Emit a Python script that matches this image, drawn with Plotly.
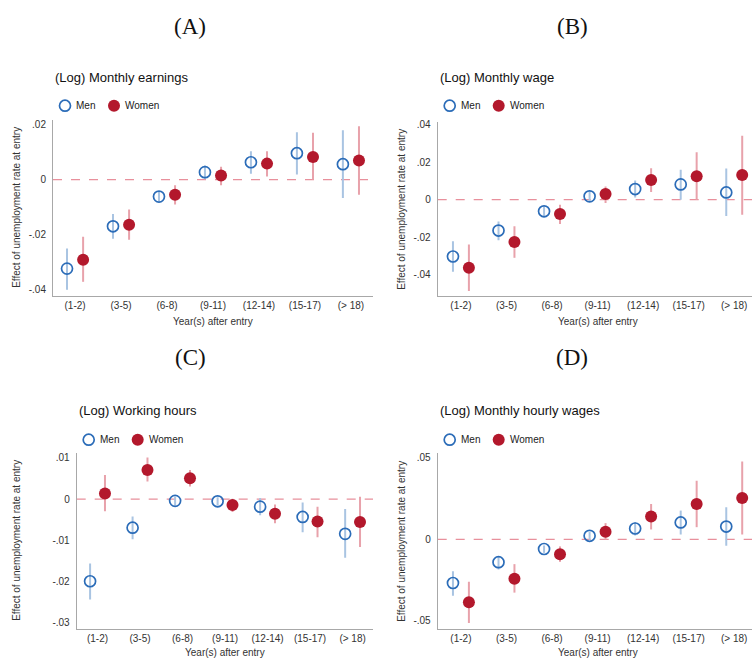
import plotly.graph_objects as go

# Year groups after labour-market entry
categories = ["(1-2)", "(3-5)", "(6-8)", "(9-11)", "(12-14)", "(15-17)", "(> 18)"]

# Panel A: (Log) Monthly earnings
a_men = [-0.0324, -0.0170, -0.0062, 0.0027, 0.0063, 0.0096, 0.0056]
a_men_hi = [-0.0251, -0.0125, -0.0045, 0.0051, 0.0103, 0.0172, 0.0179]
a_men_lo = [-0.0401, -0.0215, -0.0079, 0.0001, 0.0021, 0.0018, -0.0067]
a_women = [-0.0292, -0.0164, -0.0055, 0.0015, 0.0058, 0.0082, 0.0069]
a_women_hi = [-0.0208, -0.0109, -0.0021, 0.0047, 0.0103, 0.0170, 0.0194]
a_women_lo = [-0.0372, -0.0219, -0.0091, -0.0021, 0.0011, 0.0000, -0.0055]

# Panel B: (Log) Monthly wage
b_men = [-0.0304, -0.0165, -0.0062, 0.0018, 0.0057, 0.0082, 0.0039]
b_men_hi = [-0.0222, -0.0116, -0.0037, 0.0044, 0.0103, 0.0160, 0.0167]
b_men_lo = [-0.0386, -0.0217, -0.0089, -0.0009, 0.0012, 0.0000, -0.0087]
b_women = [-0.0364, -0.0226, -0.0076, 0.0030, 0.0105, 0.0126, 0.0132]
b_women_hi = [-0.0240, -0.0142, -0.0027, 0.0071, 0.0169, 0.0254, 0.0343]
b_women_lo = [-0.0489, -0.0311, -0.0130, -0.0018, 0.0041, 0.0000, -0.0080]

# Panel C: (Log) Working hours
c_men = [-0.0199, -0.0069, -0.0004, -0.0005, -0.0018, -0.0043, -0.0084]
c_men_hi = [-0.0156, -0.0042, 0.0006, 0.0005, 0.0003, -0.0008, -0.0024]
c_men_lo = [-0.0243, -0.0097, -0.0015, -0.0015, -0.0039, -0.0080, -0.0142]
c_women = [0.0014, 0.0071, 0.0051, -0.0014, -0.0035, -0.0054, -0.0055]
c_women_hi = [0.0059, 0.0101, 0.0071, 0.0001, -0.0013, -0.0018, 0.0006]
c_women_lo = [-0.0029, 0.0043, 0.0031, -0.0031, -0.0058, -0.0092, -0.0116]

# Panel D: (Log) Monthly hourly wages
d_men = [-0.0268, -0.0140, -0.0059, 0.0022, 0.0067, 0.0104, 0.0079]
d_men_hi = [-0.0195, -0.0102, -0.0037, 0.0045, 0.0106, 0.0177, 0.0197]
d_men_lo = [-0.0346, -0.0185, -0.0083, -0.0002, 0.0024, 0.0030, -0.0039]
d_women = [-0.0386, -0.0242, -0.0091, 0.0047, 0.0140, 0.0217, 0.0254]
d_women_hi = [-0.0260, -0.0152, -0.0043, 0.0100, 0.0217, 0.0360, 0.0478]
d_women_lo = [-0.0514, -0.0327, -0.0138, -0.0002, 0.0061, 0.0075, 0.0030]

MEN = "#2b6cb8"
MEN_CI = "#a9c4e2"
WOMEN = "#b3182c"
WOMEN_CI = "#e8a2ab"
ZERO = "#e8909c"
AXIS = "#a8a8a8"
TXT = "#333333"
W, H = 752, 658

panels = [
    dict(letter="(A)", title="(Log) Monthly earnings",
         men=(a_men, a_men_lo, a_men_hi), women=(a_women, a_women_lo, a_women_hi),
         px=(53, 373), py=(118, 295), xr=(-0.48, 6.48), yr=(-0.0424, 0.0218),
         ticks=[0.02, 0, -0.02, -0.04], tickt=[".02", "0", "-.02", "-.04"],
         label_xy=(190, 25), title_y=76, legend_y=104, ytitle_x=17, xtitle_y=320),
    dict(letter="(B)", title="(Log) Monthly wage",
         men=(b_men, b_men_lo, b_men_hi), women=(b_women, b_women_lo, b_women_hi),
         px=(437.7, 752), py=(120, 295), xr=(-0.51, 6.39), yr=(-0.0516, 0.0418),
         ticks=[0.04, 0.02, 0, -0.02, -0.04], tickt=[".04", ".02", "0", "-.02", "-.04"],
         label_xy=(572, 25), title_y=76, legend_y=104, ytitle_x=402, xtitle_y=320),
    dict(letter="(C)", title="(Log) Working hours",
         men=(c_men, c_men_lo, c_men_hi), women=(c_women, c_women_lo, c_women_hi),
         px=(76.7, 373), py=(452, 629), xr=(-0.49, 6.48), yr=(-0.0315, 0.0113),
         ticks=[0.01, 0, -0.01, -0.02, -0.03], tickt=[".01", "0", "-.01", "-.02", "-.03"],
         label_xy=(190, 357), title_y=410, legend_y=439, ytitle_x=17, xtitle_y=652),
    dict(letter="(D)", title="(Log) Monthly hourly wages",
         men=(d_men, d_men_lo, d_men_hi), women=(d_women, d_women_lo, d_women_hi),
         px=(437.7, 752), py=(452, 629), xr=(-0.51, 6.39), yr=(-0.0551, 0.0533),
         ticks=[0.05, 0, -0.05], tickt=[".05", "0", "-.05"],
         label_xy=(572, 357), title_y=410, legend_y=439, ytitle_x=402, xtitle_y=652),
]

OFF = 0.175  # horizontal dodge between men and women estimates

fig = go.Figure()
annotations = []
shapes = []

for i, p in enumerate(panels, start=1):
    xa = "x" if i == 1 else f"x{i}"
    ya = "y" if i == 1 else f"y{i}"
    xs = list(range(len(categories)))

    for (est, lo, hi), dx, ci_col, col, sym, lw, size in [
        (p["men"], -OFF, MEN_CI, MEN, "circle-open", 1.7, 11),
        (p["women"], OFF, WOMEN_CI, WOMEN, "circle", 0, 12),
    ]:
        # confidence interval spikes
        cx, cy = [], []
        for k in xs:
            cx += [k + dx, k + dx, None]
            cy += [lo[k], hi[k], None]
        fig.add_trace(go.Scatter(x=cx, y=cy, mode="lines", xaxis=xa, yaxis=ya,
                                 line=dict(color=ci_col, width=2), showlegend=False,
                                 hoverinfo="skip"))
        fig.add_trace(go.Scatter(x=[k + dx for k in xs], y=est, mode="markers",
                                 xaxis=xa, yaxis=ya, showlegend=False,
                                 marker=dict(symbol=sym, size=size, color=col,
                                             line=dict(color=col, width=lw))))

    x0, x1 = p["px"][0] / W, p["px"][1] / W
    y0, y1 = 1 - p["py"][1] / H, 1 - p["py"][0] / H
    fig.layout[f"xaxis{'' if i == 1 else i}"] = dict(
        domain=[x0, min(x1, 1.0)], range=list(p["xr"]), anchor=ya,
        tickmode="array", tickvals=xs, ticktext=categories, showgrid=False,
        zeroline=False, showline=True, linecolor=AXIS, linewidth=1, ticks="",
        tickfont=dict(family="Liberation Sans, Arial", size=10, color=TXT), ticklabelstandoff=0)
    fig.layout[f"yaxis{'' if i == 1 else i}"] = dict(
        domain=[y0, y1], range=list(p["yr"]), anchor=xa,
        tickmode="array", tickvals=p["ticks"], ticktext=p["tickt"], showgrid=False,
        zeroline=False, showline=True, linecolor=AXIS, linewidth=1, ticks="",
        tickfont=dict(family="Liberation Sans, Arial", size=10, color=TXT), ticklabelstandoff=4)

    # dashed reference line at zero
    shapes.append(dict(type="line", xref=f"{xa} domain", yref=ya, x0=0, x1=1, y0=0, y1=0,
                       layer="below", line=dict(color=ZERO, width=1.2, dash="dash")))

    # panel letter
    annotations.append(dict(text=p["letter"], x=p["label_xy"][0] / W, y=1 - p["label_xy"][1] / H,
                            xref="paper", yref="paper", showarrow=False,
                            xanchor="center", yanchor="middle",
                            font=dict(family="Liberation Serif, Times New Roman", size=23, color="#111")))
    # panel title
    annotations.append(dict(text=p["title"], x=p["px"][0] / W, y=1 - p["title_y"] / H,
                            xref="paper", yref="paper", showarrow=False,
                            xanchor="left", yanchor="middle",
                            font=dict(family="Liberation Sans, Arial", size=13, color="#111")))
    # y-axis title
    annotations.append(dict(text="Effect of unemployment rate at entry", textangle=-90,
                            x=p["ytitle_x"] / W, y=(y0 + y1) / 2, xref="paper", yref="paper",
                            showarrow=False, xanchor="center", yanchor="middle",
                            font=dict(family="Liberation Sans, Arial", size=10, color=TXT)))
    # x-axis title
    annotations.append(dict(text="Year(s) after entry", x=3, xref=xa,
                            y=1 - p["xtitle_y"] / H, yref="paper", showarrow=False,
                            xanchor="center", yanchor="middle", borderpad=0,
                            font=dict(family="Liberation Sans, Arial", size=10, color=TXT)))

    # legend key
    lx = p["px"][0] + 12
    ly = p["legend_y"]
    for key_x, sym, col, lw, name in [(lx, "circle-open", MEN, 1.7, "Men"),
                                       (lx + 49, "circle", WOMEN, 0, "Women")]:
        fig.add_trace(go.Scatter(x=[key_x / W], y=[1 - ly / H], xaxis="x9", yaxis="y9",
                                 mode="markers", showlegend=False, hoverinfo="skip",
                                 marker=dict(symbol=sym, size=12 if lw == 0 else 11, color=col,
                                             line=dict(color=col, width=lw))))
        annotations.append(dict(text=name, x=(key_x + 9) / W, y=1 - ly / H,
                                xref="paper", yref="paper", showarrow=False,
                                xanchor="left", yanchor="middle",
                                font=dict(family="Liberation Sans, Arial", size=10, color="#222")))

# overlay axes spanning the whole page, used for legend keys
fig.update_layout(
    xaxis9=dict(domain=[0, 1], range=[0, 1], visible=False, anchor="y9", fixedrange=True),
    yaxis9=dict(domain=[0, 1], range=[0, 1], visible=False, anchor="x9", fixedrange=True),
)

fig.update_layout(width=W, height=H, margin=dict(l=0, r=0, t=0, b=0),
                  paper_bgcolor="white", plot_bgcolor="rgba(0,0,0,0)",
                  annotations=annotations, shapes=shapes, showlegend=False)

fig.write_html("out.html")
